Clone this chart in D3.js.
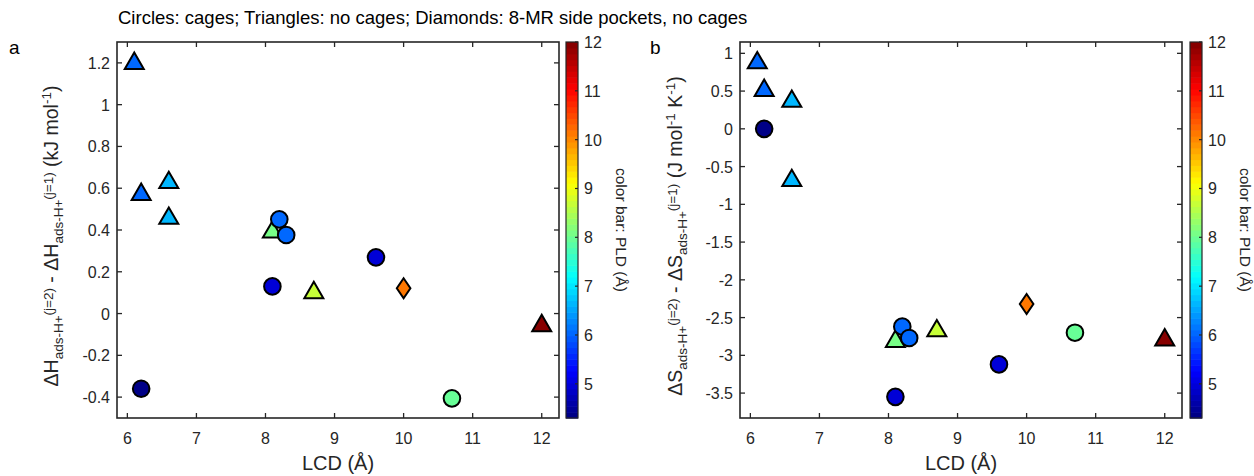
<!DOCTYPE html>
<html>
<head>
<meta charset="utf-8">
<script src="https://cdn.jsdelivr.net/npm/d3@7"></script>
<style>
  html, body { margin: 0; padding: 0; background: #fff; }
  svg { display: block; font-family: "Liberation Sans", Arial, sans-serif; }
</style>
</head>
<body>
<svg id="chart" width="1254" height="476"></svg>
<script>
// ---------------- data ----------------
const lcd    = [6.1, 6.2, 6.6, 6.6, 6.2, 8.1, 8.2, 8.3, 8.1, 8.7, 9.6, 10.0, 10.7, 12.0];
const shapes = ["triangle","triangle","triangle","triangle","circle","triangle","circle","circle","circle","triangle","circle","diamond","circle","triangle"];
const pld    = [6.0, 6.0, 6.7, 6.7, 4.4, 8.1, 6.05, 6.05, 5.0, 8.7, 5.0, 10.1, 8.0, 12.0];
const dH     = [1.21, 0.583, 0.64, 0.469, -0.36, 0.403, 0.451, 0.376, 0.13, 0.113, 0.269, 0.121, -0.406, -0.045];
const dS     = [0.91, 0.545, 0.40, -0.65, 0.0, -2.78, -2.62, -2.77, -3.55, -2.64, -3.12, -2.32, -2.70, -2.76];

const xTicks   = [6, 7, 8, 9, 10, 11, 12];
const yTicksA  = [-0.4, -0.2, 0, 0.2, 0.4, 0.6, 0.8, 1, 1.2];
const yTicksB  = [-3.5, -3, -2.5, -2, -1.5, -1, -0.5, 0, 0.5, 1];
const cbTicks  = [5, 6, 7, 8, 9, 10, 11, 12];
const xDomain  = [5.85, 12.25];
const yDomainA = [-0.5, 1.3];
const yDomainB = [-3.83, 1.15];
const cDomain  = [4.3, 12];

const titleText = "Circles: cages; Triangles: no cages; Diamonds: 8-MR side pockets, no cages";

// ---------------- helpers ----------------
const svg = d3.select("#chart");
const AX = "#262626";
const TOP = 42, BOTTOM = 418;

function jet(t) {
  // MATLAB jet with 64 discrete levels
  const n = 64;
  let i = Math.min(n - 1, Math.max(0, Math.floor(t * n)));
  const v = (i + 0.5) / n;
  const c = x => Math.max(0, Math.min(1, x));
  const r = c(1.5 - Math.abs(4 * v - 3));
  const g = c(1.5 - Math.abs(4 * v - 2));
  const b = c(1.5 - Math.abs(4 * v - 1));
  return d3.rgb(r * 255, g * 255, b * 255).toString();
}
const cNorm = d3.scaleLinear().domain(cDomain).range([0, 1]).clamp(true);
const colorOf = p => jet(cNorm(p));

function fmt(v) { return String(+v.toFixed(2)); }

function symbolPath(shape) {
  if (shape === "circle") return d3.symbol().type(d3.symbolCircle).size(Math.PI * 8.3 * 8.3)();
  if (shape === "triangle") {
    const w = 9.5, h = 8.2;
    return `M0,${-h}L${w},${h}L${-w},${h}Z`;
  }
  // diamond
  const w = 6.8, h = 10;
  return `M0,${-h}L${w},0L0,${h}L${-w},0Z`;
}

function panel(opt) {
  const x = d3.scaleLinear().domain(xDomain).range([opt.left, opt.right]);
  const y = d3.scaleLinear().domain(opt.yDomain).range([BOTTOM, TOP]);
  const g = svg.append("g");

  // ticks (inward, all four sides)
  const tl = 5;
  g.selectAll(".xt").data(xTicks).join("line")
    .attr("x1", d => x(d)).attr("x2", d => x(d))
    .attr("y1", BOTTOM).attr("y2", BOTTOM - tl)
    .attr("stroke", AX).attr("stroke-width", 1.3);
  g.selectAll(".xt2").data(xTicks).join("line")
    .attr("x1", d => x(d)).attr("x2", d => x(d))
    .attr("y1", TOP).attr("y2", TOP + tl)
    .attr("stroke", AX).attr("stroke-width", 1.3);
  g.selectAll(".yt").data(opt.yTicks).join("line")
    .attr("x1", opt.left).attr("x2", opt.left + tl)
    .attr("y1", d => y(d)).attr("y2", d => y(d))
    .attr("stroke", AX).attr("stroke-width", 1.3);
  g.selectAll(".yt2").data(opt.yTicks).join("line")
    .attr("x1", opt.right).attr("x2", opt.right - tl)
    .attr("y1", d => y(d)).attr("y2", d => y(d))
    .attr("stroke", AX).attr("stroke-width", 1.3);

  // box
  g.append("rect")
    .attr("x", opt.left).attr("y", TOP)
    .attr("width", opt.right - opt.left).attr("height", BOTTOM - TOP)
    .attr("fill", "none").attr("stroke", AX).attr("stroke-width", 1.6);

  // tick labels
  g.selectAll(".xl").data(xTicks).join("text")
    .attr("x", d => x(d)).attr("y", BOTTOM + 26)
    .attr("text-anchor", "middle").attr("font-size", 16).attr("fill", AX)
    .text(d => fmt(d));
  g.selectAll(".yl").data(opt.yTicks).join("text")
    .attr("x", opt.left - 7).attr("y", d => y(d) + 6)
    .attr("text-anchor", "end").attr("font-size", 16).attr("fill", AX)
    .text(d => fmt(d));

  // x label
  g.append("text")
    .attr("x", (opt.left + opt.right) / 2).attr("y", BOTTOM + 52)
    .attr("text-anchor", "middle").attr("font-size", 20).attr("fill", AX)
    .text("LCD (Å)");

  // y label with sub/superscripts
  const yl = g.append("text")
    .attr("transform", `translate(${opt.ylabelX},${(TOP + BOTTOM) / 2 + 6}) rotate(-90)`)
    .attr("text-anchor", "middle").attr("font-size", 19.5).attr("fill", AX);
  opt.ylabelParts.forEach(p => {
    const t = yl.append("tspan").text(p.t);
    if (p.sub) t.attr("font-size", 13.5).attr("dy", p.dy);
    else t.attr("dy", p.dy || 0);
  });

  // markers
  const vals = opt.values;
  g.selectAll(".m").data(d3.range(lcd.length)).join("path")
    .attr("d", i => symbolPath(shapes[i]))
    .attr("transform", i => `translate(${x(lcd[i])},${y(vals[i])})`)
    .attr("fill", i => colorOf(pld[i]))
    .attr("stroke", "#000").attr("stroke-width", 2).attr("stroke-linejoin", "miter");

  // colorbar
  const cy = d3.scaleLinear().domain(cDomain).range([BOTTOM, TOP]);
  const cbL = opt.cbLeft, cbW = 12;
  const nLev = 64;
  const levels = d3.range(nLev);
  const lvH = (BOTTOM - TOP) / nLev;
  g.selectAll(".cb").data(levels).join("rect")
    .attr("x", cbL).attr("width", cbW)
    .attr("y", i => BOTTOM - (i + 1) * lvH).attr("height", lvH + 0.6)
    .attr("fill", i => jet((i + 0.5) / nLev));
  g.append("rect").attr("x", cbL).attr("y", TOP).attr("width", cbW).attr("height", BOTTOM - TOP)
    .attr("fill", "none").attr("stroke", AX).attr("stroke-width", 1.2);
  g.selectAll(".cbt").data(cbTicks).join("line")
    .attr("x1", cbL + cbW).attr("x2", cbL + cbW - 3)
    .attr("y1", d => cy(d)).attr("y2", d => cy(d))
    .attr("stroke", AX).attr("stroke-width", 1.2);
  g.selectAll(".cbl").data(cbTicks).join("text")
    .attr("x", cbL + cbW + 6).attr("y", d => cy(d) + 6)
    .attr("font-size", 16).attr("fill", AX)
    .text(d => fmt(d));
  g.append("text")
    .attr("transform", `translate(${cbL + 50},${(TOP + BOTTOM) / 2}) rotate(90)`)
    .attr("text-anchor", "middle").attr("font-size", 15.5).attr("fill", AX)
    .text("color bar: PLD (Å)");

  // panel letter
  svg.append("text").attr("x", opt.letterX).attr("y", 54)
    .attr("font-size", 19).attr("fill", "#000").text(opt.letter);
}

panel({
  left: 117, right: 559, yDomain: yDomainA, yTicks: yTicksA, values: dH,
  cbLeft: 566, ylabelX: 58, letter: "a", letterX: 9,
  ylabelParts: [
    {t: "ΔH"}, {t: "ads-H+", sub: true, dy: 5}, {t: "(j=2)", sub: true, dy: -10},
    {t: " - ΔH", dy: 5}, {t: "ads-H+", sub: true, dy: 5}, {t: "(j=1)", sub: true, dy: -10},
    {t: " (kJ mol", dy: 5}, {t: "-1", sub: true, dy: -7}, {t: ")", dy: 7}
  ]
});
panel({
  left: 740, right: 1182, yDomain: yDomainB, yTicks: yTicksB, values: dS,
  cbLeft: 1190, ylabelX: 682, letter: "b", letterX: 650,
  ylabelParts: [
    {t: "ΔS"}, {t: "ads-H+", sub: true, dy: 5}, {t: "(j=2)", sub: true, dy: -10},
    {t: " - ΔS", dy: 5}, {t: "ads-H+", sub: true, dy: 5}, {t: "(j=1)", sub: true, dy: -10},
    {t: " (J mol", dy: 5}, {t: "-1", sub: true, dy: -7}, {t: " K", dy: 7},
    {t: "-1", sub: true, dy: -7}, {t: ")", dy: 7}
  ]
});

svg.append("text").attr("x", 118).attr("y", 24)
  .attr("font-size", 18.5).attr("fill", "#000").text(titleText);
</script>
</body>
</html>
